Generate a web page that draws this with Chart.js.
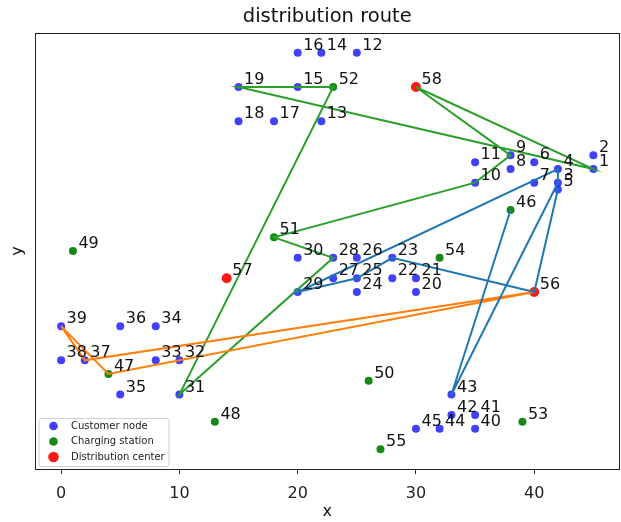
<!DOCTYPE html>
<html>
<head>
<meta charset="utf-8">
<script src="https://cdn.jsdelivr.net/npm/chart.js@4.4.0/dist/chart.umd.min.js"></script>
<style>
  html, body { margin: 0; padding: 0; background: #fff; overflow: hidden; }
  #wrap { width: 621px; height: 522px; position: relative; }
  #route-chart { display: block; }
</style>
</head>
<body>
<div id="wrap"><canvas id="route-chart"></canvas></div>
<script>
// node coordinates, node n sits at index n-1
const nodeX = [45, 45, 42, 42, 42, 40, 40, 38, 38, 35,
               35, 25, 22, 22, 20, 20, 18, 15, 15, 30,
               30, 28, 28, 25, 25, 25, 23, 23, 20, 20,
               10, 10, 8, 8, 5, 5, 2, 0, 0, 35,
               35, 33, 33, 32, 30, 38, 4, 13, 1, 26,
               18, 23, 39, 32, 27, 40, 14, 30];
const nodeY = [68, 70, 66, 68, 65, 69, 66, 68, 70, 66,
               69, 85, 75, 85, 80, 85, 75, 75, 80, 50,
               52, 52, 55, 50, 52, 55, 52, 55, 50, 55,
               35, 40, 40, 45, 35, 45, 40, 40, 45, 30,
               32, 32, 35, 30, 30, 62, 38, 31, 56, 37,
               58, 80, 31, 55, 27, 50, 52, 80];

const customerIds = [1, 2, 3, 4, 5, 6, 7, 8, 9, 10, 11, 12, 13, 14, 15,
                     16, 17, 18, 19, 20, 21, 22, 23, 24, 25, 26, 27, 28, 29, 30,
                     31, 32, 33, 34, 35, 36, 37, 38, 39, 40, 41, 42, 43, 44, 45];
const chargingIds = [46, 47, 48, 49, 50, 51, 52, 53, 54, 55];
const depotIds = [56, 57, 58];

// vehicle routes (node ids in visiting order)
const routeBlue = [5, 56, 23, 25, 29, 4, 3, 43, 46];
const routeOrange = [56, 37, 39, 47, 56];
const routeGreen = [58, 9, 10, 51, 28, 31, 52, 15, 19, 1, 58];

const xTicks = [0, 10, 20, 30, 40];

function pts(ids) {
  return ids.map(n => ({ x: nodeX[n - 1], y: nodeY[n - 1] }));
}

const FONT = 'DejaVu Sans';

// box round the plot area
const frame = {
  id: 'frame',
  afterDraw(chart) {
    const a = chart.chartArea, ctx = chart.ctx;
    const l = Math.round(a.left) + 0.5, t = Math.round(a.top) + 0.5;
    const r = Math.round(a.right) - 0.5, b = Math.round(a.bottom) + 0.5;
    ctx.save();
    ctx.strokeStyle = '#222';
    ctx.lineWidth = 1;
    ctx.strokeRect(l, t, r - l, b - t);
    ctx.restore();
  }
};

// node numbers next to each point
const nodeLabels = {
  id: 'nodeLabels',
  afterDatasetsDraw(chart) {
    const ctx = chart.ctx, sx = chart.scales.x, sy = chart.scales.y;
    ctx.save();
    ctx.font = '16px "' + FONT + '"';
    ctx.fillStyle = '#111';
    ctx.textAlign = 'left';
    ctx.textBaseline = 'alphabetic';
    for (let i = 0; i < nodeX.length; i++) {
      ctx.fillText(String(i + 1), sx.getPixelForValue(nodeX[i]) + 5.5, sy.getPixelForValue(nodeY[i]) - 3);
    }
    ctx.restore();
  }
};

// small legend in the lower left corner
const legendBox = {
  id: 'legendBox',
  afterDraw(chart) {
    const a = chart.chartArea, ctx = chart.ctx;
    const bx = a.left + 4, by = a.bottom - 51, bw = 130, bh = 48;
    ctx.save();
    ctx.beginPath();
    ctx.roundRect(bx + 0.5, by + 0.5, bw, bh, 3);
    ctx.fillStyle = 'rgba(255,255,255,0.8)';
    ctx.fill();
    ctx.strokeStyle = '#d0d0d0';
    ctx.lineWidth = 1;
    ctx.stroke();
    ctx.font = '10px "' + FONT + '"';
    ctx.textBaseline = 'middle';
    const rows = [8, 23.5, 39];
    for (let i = 0; i < 3; i++) {
      const ds = chart.data.datasets[i];
      ctx.beginPath();
      ctx.arc(bx + 15, by + rows[i], ds.pointRadius + 0.3, 0, Math.PI * 2);
      ctx.fillStyle = ds.backgroundColor;
      ctx.fill();
      ctx.fillStyle = '#222';
      ctx.fillText(ds.label, bx + 32.5, by + rows[i]);
    }
    ctx.restore();
  }
};

new Chart(document.getElementById('route-chart'), {
  type: 'scatter',
  data: {
    datasets: [
      { label: 'Customer node', data: pts(customerIds), backgroundColor: 'rgba(0,0,255,0.75)',
        borderWidth: 0, pointRadius: 4, order: 1 },
      { label: 'Charging station', data: pts(chargingIds), backgroundColor: 'rgba(0,128,0,0.92)',
        borderWidth: 0, pointRadius: 4, order: 1 },
      { label: 'Distribution center', data: pts(depotIds), backgroundColor: 'rgba(255,0,0,0.9)',
        borderWidth: 0, pointRadius: 5, order: 1 },
      { label: 'route 1', data: pts(routeBlue), showLine: true, borderColor: '#1f77b4',
        borderWidth: 2, pointRadius: 0, order: 0 },
      { label: 'route 2', data: pts(routeOrange), showLine: true, borderColor: '#ff7f0e',
        borderWidth: 2, pointRadius: 0, order: 0 },
      { label: 'route 3', data: pts(routeGreen), showLine: true, borderColor: '#2ca02c',
        borderWidth: 2, pointRadius: 0, order: 0 }
    ]
  },
  options: {
    responsive: true,
    maintainAspectRatio: false,
    animation: false,
    layout: { autoPadding: false, padding: { right: 1 } },
    plugins: {
      legend: { display: false },
      tooltip: { enabled: false },
      title: {
        display: true,
        text: 'distribution route',
        fullSize: false,
        color: '#111',
        font: { family: FONT, size: 19.5, weight: 'normal' },
        padding: { top: 4.85, bottom: 4.75 }
      }
    },
    scales: {
      x: {
        type: 'linear',
        min: -2.25,
        max: 47.25,
        afterBuildTicks: s => { s.ticks = xTicks.map(v => ({ value: v })); },
        afterFit: s => { s.height = 53; s.paddingLeft = 0; s.paddingRight = 0; },
        ticks: { color: '#222', font: { family: FONT, size: 16 }, padding: 10.4 },
        grid: { display: true, drawOnChartArea: false, drawTicks: true, tickLength: 5, color: '#222' },
        border: { display: false },
        title: { display: true, text: 'x', color: '#111', font: { family: FONT, size: 16 },
                 padding: { top: 0, bottom: 0.4 } }
      },
      y: {
        type: 'linear',
        min: 24.1,
        max: 87.9,
        ticks: { display: false },
        grid: { display: false },
        border: { display: false },
        afterFit: s => { s.width = 34.5; },
        title: { display: true, text: 'y', color: '#111', font: { family: FONT, size: 16 },
                 padding: { top: 7.8, bottom: 0 } }
      }
    }
  },
  plugins: [frame, nodeLabels, legendBox]
});
</script>
</body>
</html>
